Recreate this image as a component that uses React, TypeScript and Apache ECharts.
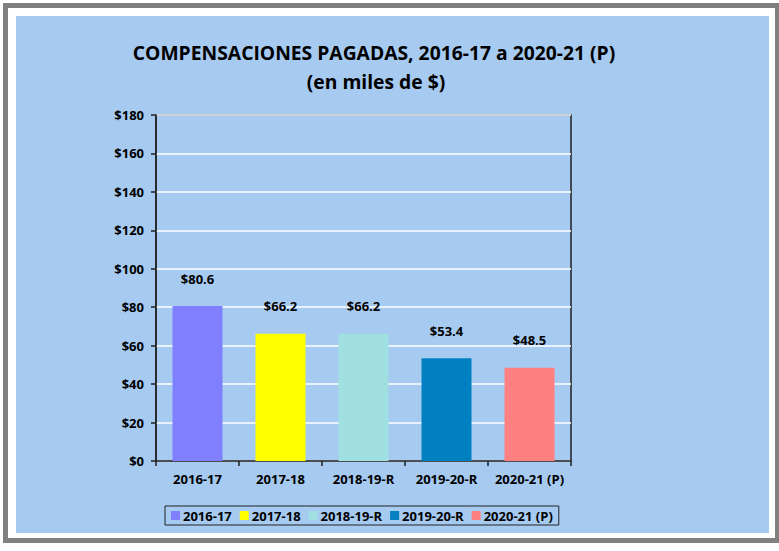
import React, { useEffect, useRef } from "react";
import * as echarts from "echarts";

const categories = ["2016-17", "2017-18", "2018-19-R", "2019-20-R", "2020-21 (P)"];
const values = [80.6, 66.2, 66.2, 53.4, 48.5];
const colors = ["#8080FF", "#FFFF00", "#A0E0E0", "#0080C0", "#FF8080"];
const yTicks = { min: 0, max: 180, interval: 20 };
const titleText = "COMPENSACIONES PAGADAS, 2016-17 a 2020-21 (P)";
const subtitleText = "(en miles de $)";

const FONT = "'Open Sans', sans-serif";

export default function App() {
  const ref = useRef<HTMLDivElement>(null);
  useEffect(() => {
    if (!ref.current) return;
    const chart = echarts.init(ref.current, null, { renderer: "svg" });
    const series = categories.map((name, i) => ({
      name,
      type: "bar",
      barWidth: 50,
      barGap: "-100%",
      itemStyle: { color: colors[i] },
      data: categories.map((_, j) => (j === i ? values[i] : "-")),
      label: {
        show: true,
        position: "top",
        distance: 21,
        formatter: (p: any) => "$" + Number(p.value).toFixed(1),
        fontFamily: FONT,
        fontWeight: "bold",
        fontSize: 13,
        color: "#000",
      },
    }));
    chart.setOption({
      animation: false,
      backgroundColor: "#ffffff",
      graphic: [
        { type: "rect", z: -10, shape: { x: 3, y: 3, width: 780, height: 540 }, style: { fill: "#808080" } },
        { type: "rect", z: -9, shape: { x: 8, y: 8, width: 767, height: 530 }, style: { fill: "#ffffff" } },
        { type: "rect", z: -8, shape: { x: 16, y: 16, width: 753, height: 517 }, style: { fill: "#A6CAF0" } },
      ],
      title: [
        {
          text: titleText,
          left: 369,
          top: 38,
          textAlign: "center",
          textStyle: { fontFamily: FONT, fontWeight: "bold", fontSize: 19.3, color: "#000" },
        },
        {
          text: subtitleText,
          left: 371,
          top: 67,
          textAlign: "center",
          textStyle: { fontFamily: FONT, fontWeight: "bold", fontSize: 19.3, color: "#000" },
        },
      ],
      legend: {
        left: 165,
        top: 506,
        orient: "horizontal",
        data: categories,
        icon: "rect",
        itemWidth: 9,
        itemHeight: 9,
        itemGap: 8,
        padding: [3, 6],
        borderColor: "#222",
        borderWidth: 1,
        textStyle: { fontFamily: FONT, fontWeight: "bold", fontSize: 13, color: "#000", padding: [0, 0, 0, -2] },
      },
      grid: {
        left: 156,
        top: 115,
        width: 415,
        height: 346,
        show: true,
        borderColor: "#222",
        borderWidth: 1.5,
        backgroundColor: "transparent",
      },
      xAxis: {
        type: "category",
        data: categories,
        axisLine: { lineStyle: { color: "#222", width: 1.5 } },
        axisTick: { show: true, interval: 0, length: 5, lineStyle: { color: "#222", width: 1.5 } },
        axisLabel: {
          interval: 0,
          hideOverlap: false,
          fontFamily: FONT,
          fontWeight: "bold",
          fontSize: 13,
          color: "#000",
          margin: 11,
        },
      },
      yAxis: {
        type: "value",
        min: yTicks.min,
        max: yTicks.max,
        interval: yTicks.interval,
        axisLine: { show: true, lineStyle: { color: "#222", width: 1.5 } },
        axisTick: { show: true, length: 5, lineStyle: { color: "#222", width: 1.5 } },
        axisLabel: {
          fontFamily: FONT,
          fontWeight: "bold",
          fontSize: 13,
          color: "#000",
          margin: 12,
          formatter: (v: number) => "$" + v,
        },
        splitLine: { lineStyle: { color: "#ffffff", width: 1.5 } },
      },
      series,
    });
    return () => chart.dispose();
  }, []);
  return (
    <div
      ref={ref}
      style={{ position: "fixed", left: 0, top: 0, width: 779, height: 551 }}
    />
  );
}
